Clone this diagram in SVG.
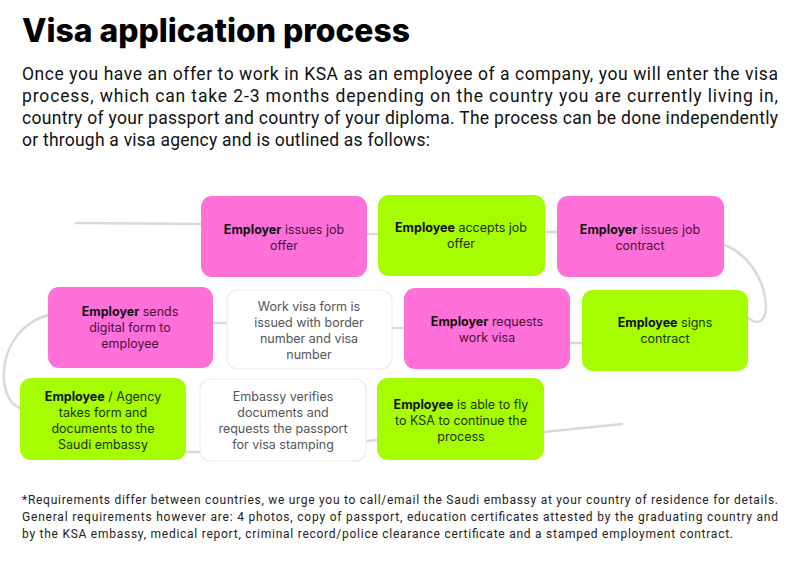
<svg xmlns="http://www.w3.org/2000/svg" width="800" height="566" viewBox="0 0 800 566">
<style>
.title{font-family:Inter,"Liberation Sans",sans-serif;font-weight:800;font-size:32px;fill:#000}
.para{font-family:Roboto,"Liberation Sans",sans-serif;font-size:17.5px;fill:#111}
.foot{font-family:Roboto,"Liberation Sans",sans-serif;font-size:12px;fill:#222}
.pink{fill:#ff70d9}
.green{fill:#a5fd00}
.white{fill:#fff;stroke:#ececec;stroke-width:1.2}
.t{font-family:Inter,"Liberation Sans",sans-serif;font-size:12.5px;text-anchor:middle}
.tp{fill:#4a0f3a}
.tg{fill:#1d3300}
.tw{fill:#555}
.b{font-weight:700;fill:#111}
.conn{fill:none;stroke:#d9d9d9;stroke-width:2.5;stroke-linecap:round}
</style>
<rect width="800" height="566" fill="#fff"/>
<text class="title" x="22" y="42" textLength="388" lengthAdjust="spacingAndGlyphs">Visa application process</text>
<text class="para" x="22" y="80" textLength="756" lengthAdjust="spacing">Once you have an offer to work in KSA as an employee of a company, you will enter the visa</text>
<text class="para" x="22" y="102" textLength="756" lengthAdjust="spacing">process, which can take 2-3 months depending on the country you are currently living in,</text>
<text class="para" x="22" y="124" textLength="756" lengthAdjust="spacing">country of your passport and country of your diploma. The process can be done independently</text>
<text class="para" x="22" y="146" textLength="408" lengthAdjust="spacing">or through a visa agency and is outlined as follows:</text>

<g id="connectors">
<path class="conn" d="M76 223 L201 224"/>
<path class="conn" d="M367 234 L378 234"/>
<path class="conn" d="M545 232 L557 232"/>
<path class="conn" d="M724 245 C772 262 777 340 748 318"/>
<path class="conn" d="M213 323 L227 323"/>
<path class="conn" d="M392 328 L404 328"/>
<path class="conn" d="M570 343 L582 343"/>
<path class="conn" d="M48 315 C-5 330 -5 400 20 408"/>
<path class="conn" d="M186 452 L200 452"/>
<path class="conn" d="M366 441 L377 440"/>
<path class="conn" d="M544 432 L622 424"/>
</g>

<g id="n1"><rect class="pink" x="201" y="196" width="166" height="81" rx="11"/>
<text class="t tp" x="284" y="234"><tspan class="b">Employer</tspan> issues job</text>
<text class="t tp" x="284" y="250">offer</text></g>
<g id="n2"><rect class="green" x="378" y="195" width="167" height="81" rx="11"/>
<text class="t tg" x="461" y="232"><tspan class="b">Employee</tspan> accepts job</text>
<text class="t tg" x="461" y="248">offer</text></g>
<g id="n3"><rect class="pink" x="557" y="196" width="167" height="81" rx="11"/>
<text class="t tp" x="640" y="234"><tspan class="b">Employer</tspan> issues job</text>
<text class="t tp" x="640" y="250">contract</text></g>
<g id="n4"><rect class="pink" x="48" y="287" width="165" height="81" rx="11"/>
<text class="t tp" x="130" y="316"><tspan class="b">Employer</tspan> sends</text>
<text class="t tp" x="130" y="332">digital form to</text>
<text class="t tp" x="130" y="348">employee</text></g>
<g id="n5"><rect class="white" x="227" y="290" width="165" height="79" rx="11"/>
<text class="t tw" x="309" y="311">Work visa form is</text>
<text class="t tw" x="309" y="327">issued with border</text>
<text class="t tw" x="309" y="343">number and visa</text>
<text class="t tw" x="309" y="359">number</text></g>
<g id="n6"><rect class="pink" x="404" y="288" width="166" height="81" rx="11"/>
<text class="t tp" x="487" y="326"><tspan class="b">Employer</tspan> requests</text>
<text class="t tp" x="487" y="342">work visa</text></g>
<g id="n7"><rect class="green" x="582" y="290" width="166" height="81" rx="11"/>
<text class="t tg" x="665" y="327"><tspan class="b">Employee</tspan> signs</text>
<text class="t tg" x="665" y="343">contract</text></g>
<g id="n8"><rect class="green" x="20" y="378" width="166" height="82" rx="11"/>
<text class="t tg" x="103" y="401"><tspan class="b">Employee</tspan> / Agency</text>
<text class="t tg" x="103" y="417">takes form and</text>
<text class="t tg" x="103" y="433">documents to the</text>
<text class="t tg" x="103" y="449">Saudi embassy</text></g>
<g id="n9"><rect class="white" x="200" y="379" width="166" height="82" rx="11"/>
<text class="t tw" x="283" y="401">Embassy verifies</text>
<text class="t tw" x="283" y="417">documents and</text>
<text class="t tw" x="283" y="433">requests the passport</text>
<text class="t tw" x="283" y="449">for visa stamping</text></g>
<g id="n10"><rect class="green" x="377" y="378" width="167" height="82" rx="11"/>
<text class="t tg" x="461" y="409"><tspan class="b">Employee</tspan> is able to fly</text>
<text class="t tg" x="461" y="425">to KSA to continue the</text>
<text class="t tg" x="461" y="441">process</text></g>

<text class="foot" x="22" y="504" textLength="756" lengthAdjust="spacing">*Requirements differ between countries, we urge you to call/email the Saudi embassy at your country of residence for details.</text>
<text class="foot" x="22" y="521" textLength="756" lengthAdjust="spacing">General requirements however are: 4 photos, copy of passport, education certificates attested by the graduating country and</text>
<text class="foot" x="22" y="538" textLength="711" lengthAdjust="spacing">by the KSA embassy, medical report, criminal record/police clearance certificate and a stamped employment contract.</text>
</svg>
